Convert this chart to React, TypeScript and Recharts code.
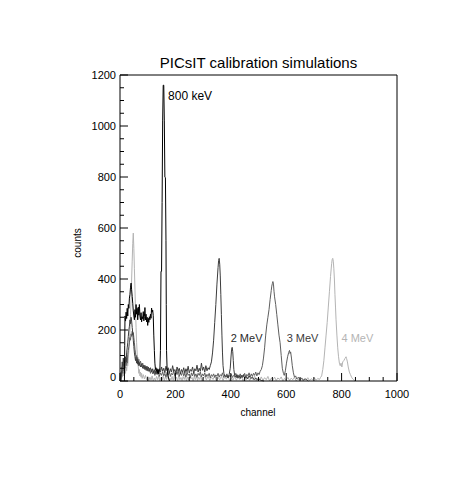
import React from "react";
import { LineChart, Line, XAxis, YAxis, ReferenceDot } from "recharts";

// [channel, counts]
const spec800keV: [number, number][] = [
  [16, 0], [17, 140], [18, 255], [20, 235], [22, 270], [24, 245], [26, 285], [28, 255],
  [30, 300], [32, 285], [34, 325], [36, 340], [38, 368], [40, 384], [42, 358], [44, 332],
  [46, 305], [48, 275], [50, 255], [52, 240], [54, 280], [56, 250], [58, 300], [60, 262],
  [62, 285], [64, 240], [66, 290], [68, 258], [70, 300], [72, 255], [74, 240], [76, 268],
  [78, 232], [80, 252], [82, 244], [84, 272], [86, 236], [88, 252], [90, 288], [92, 240],
  [94, 262], [96, 232], [98, 250], [100, 218], [102, 246], [104, 230], [106, 252], [108, 240],
  [110, 262], [112, 246], [114, 286], [116, 270], [118, 278], [120, 256], [122, 180], [124, 120],
  [126, 70], [128, 45], [130, 52], [132, 38], [134, 48], [136, 30], [138, 45], [140, 28],
  [142, 40], [144, 45], [146, 120], [148, 430], [150, 430], [152, 700], [154, 1020], [156, 1160],
  [158, 1160], [160, 1020], [162, 800], [164, 797], [166, 550], [167, 300], [168, 120], [170, 50],
  [173, 22], [176, 8], [180, 0],
];

const spec2MeV: [number, number][] = [
  [4, 0], [6, 40], [8, 75], [10, 55], [12, 90], [14, 60], [16, 80], [18, 70], [20, 95],
  [22, 75], [24, 110], [26, 130], [28, 150], [30, 175], [32, 200], [34, 215], [36, 240],
  [38, 225], [40, 250], [42, 235], [44, 210], [46, 190], [48, 160], [50, 135], [52, 110],
  [54, 95], [56, 80], [58, 92], [60, 70], [62, 85], [64, 66], [66, 78], [68, 60], [70, 72],
  [74, 55], [78, 68], [82, 50], [86, 62], [90, 45], [94, 58], [98, 40], [102, 55], [106, 38],
  [110, 52], [114, 35], [118, 48], [122, 30], [126, 45], [130, 28], [134, 42], [138, 30],
  [142, 48], [146, 35], [150, 55], [154, 38], [158, 50], [162, 32], [166, 58], [170, 40],
  [174, 52], [178, 30], [182, 48], [186, 35], [190, 60], [194, 38], [198, 45], [202, 30],
  [206, 55], [210, 40], [214, 50], [218, 28], [222, 45], [226, 35], [230, 52], [234, 30],
  [238, 48], [242, 36], [246, 58], [250, 32], [254, 45], [258, 38], [262, 55], [266, 30],
  [270, 48], [274, 40], [278, 62], [282, 35], [286, 50], [290, 38], [294, 70], [298, 42],
  [302, 55], [306, 35], [310, 60], [314, 40], [318, 52], [322, 45], [326, 60], [330, 75],
  [334, 110], [338, 160], [342, 230], [346, 300], [350, 380], [354, 445], [356, 472],
  [358, 481], [360, 458], [362, 412], [364, 340], [366, 260], [368, 180], [370, 110],
  [372, 60], [375, 30], [378, 20], [382, 15], [386, 22], [390, 12], [394, 25], [398, 50],
  [401, 98], [403, 125], [405, 132], [407, 115], [409, 80], [411, 45], [414, 22], [418, 15],
  [422, 25], [426, 12], [430, 20], [434, 10], [438, 22], [442, 14], [446, 25], [450, 10],
  [455, 18], [460, 8], [466, 20], [472, 10], [478, 15], [484, 5], [490, 12], [496, 4],
  [502, 8], [510, 2], [520, 0],
];

const spec3MeV: [number, number][] = [
  [2, 0], [4, 35], [6, 20], [8, 55], [10, 30], [12, 65], [14, 40], [16, 75], [18, 50],
  [20, 85], [22, 60], [24, 90], [26, 70], [28, 105], [30, 120], [32, 135], [34, 150],
  [36, 170], [38, 160], [40, 185], [42, 175], [44, 195], [46, 180], [48, 190], [50, 170],
  [52, 150], [54, 125], [56, 110], [58, 90], [60, 100], [62, 80], [64, 92], [66, 70],
  [68, 85], [70, 62], [74, 78], [78, 55], [82, 70], [86, 48], [90, 62], [94, 42], [98, 58],
  [102, 38], [106, 50], [110, 30], [114, 45], [118, 28], [122, 40], [126, 22], [130, 38],
  [134, 25], [138, 35], [142, 18], [146, 32], [150, 22], [154, 36], [158, 20], [162, 30],
  [166, 15], [170, 34], [174, 22], [178, 38], [182, 18], [186, 30], [190, 24], [194, 40],
  [198, 20], [202, 35], [206, 25], [210, 42], [214, 18], [218, 32], [222, 22], [226, 38],
  [230, 20], [234, 30], [238, 15], [242, 35], [246, 22], [250, 28], [254, 12], [258, 32],
  [262, 20], [266, 36], [270, 18], [274, 28], [278, 14], [282, 30], [286, 22], [290, 35],
  [294, 16], [298, 28], [302, 20], [306, 32], [310, 15], [314, 26], [318, 20], [322, 30],
  [326, 12], [330, 25], [334, 18], [338, 28], [342, 14], [346, 24], [350, 18], [354, 30],
  [358, 15], [362, 25], [366, 20], [370, 32], [374, 14], [378, 24], [382, 18], [386, 28],
  [390, 12], [394, 22], [398, 16], [402, 26], [406, 14], [410, 22], [414, 18], [418, 30],
  [422, 12], [426, 24], [430, 16], [434, 28], [438, 14], [442, 22], [446, 18], [450, 30],
  [454, 15], [458, 26], [462, 20], [466, 32], [470, 16], [474, 28], [478, 18], [482, 30],
  [486, 22], [490, 35], [494, 20], [498, 32], [502, 25], [506, 38], [510, 45], [514, 60],
  [518, 90], [522, 130], [526, 180], [530, 220], [534, 250], [538, 280], [542, 320],
  [546, 355], [548, 372], [550, 382], [552, 390], [554, 380], [556, 352], [558, 330],
  [562, 300], [566, 260], [570, 220], [574, 180], [578, 150], [582, 100], [586, 50],
  [590, 30], [593, 22], [597, 40], [601, 70], [605, 95], [609, 112], [612, 120], [614, 108],
  [616, 114], [619, 90], [622, 60], [626, 32], [630, 15], [634, 20], [638, 8], [644, 15],
  [650, 5], [656, 12], [662, 3], [670, 8], [680, 0],
];

const spec4MeV: [number, number][] = [
  [0, 0], [2, 25], [4, 10], [6, 40], [8, 15], [10, 35], [12, 20], [14, 45], [16, 25],
  [18, 50], [20, 30], [22, 55], [24, 40], [26, 70], [28, 60], [30, 90], [32, 120], [34, 160],
  [36, 200], [38, 260], [40, 320], [42, 400], [44, 470], [46, 540], [48, 580], [50, 520],
  [52, 440], [54, 360], [56, 280], [58, 210], [60, 150], [62, 110], [64, 70], [66, 55],
  [68, 30], [70, 45], [72, 20], [74, 35], [76, 15], [78, 30], [80, 10], [84, 25], [88, 8],
  [92, 22], [96, 5], [100, 18], [104, 0], [108, 15], [112, 3], [116, 20], [120, 0],
  [124, 12], [128, 2], [132, 18], [136, 5], [140, 22], [144, 0], [148, 14], [152, 4],
  [156, 20], [160, 2], [164, 16], [168, 6], [172, 24], [176, 0], [180, 12], [184, 4],
  [188, 18], [192, 2], [196, 20], [200, 6], [204, 15], [208, 0], [212, 22], [216, 5],
  [220, 14], [224, 2], [228, 18], [232, 6], [236, 20], [240, 0], [244, 16], [248, 4],
  [252, 22], [256, 8], [260, 14], [264, 0], [268, 18], [272, 5], [276, 20], [280, 2],
  [284, 15], [288, 6], [292, 22], [296, 0], [300, 12], [306, 18], [312, 4], [318, 20],
  [324, 2], [330, 15], [336, 6], [342, 22], [348, 0], [354, 14], [360, 5], [366, 19],
  [372, 2], [378, 16], [384, 7], [390, 21], [396, 0], [402, 13], [408, 4], [414, 18],
  [420, 3], [426, 15], [432, 6], [438, 20], [444, 0], [450, 12], [456, 5], [462, 17],
  [468, 2], [474, 14], [480, 6], [486, 19], [492, 1], [498, 12], [504, 4], [510, 16],
  [516, 2], [522, 13], [528, 5], [534, 18], [540, 0], [546, 11], [552, 4], [558, 15],
  [564, 2], [570, 12], [576, 6], [582, 16], [588, 0], [594, 10], [600, 4], [606, 14],
  [612, 2], [618, 11], [624, 5], [630, 15], [636, 0], [642, 9], [648, 3], [654, 12],
  [660, 1], [666, 10], [672, 4], [678, 13], [684, 2], [690, 9], [696, 5], [702, 12],
  [708, 3], [714, 10], [720, 6], [724, 14], [728, 20], [732, 45], [736, 80], [740, 130],
  [744, 180], [748, 230], [752, 290], [756, 350], [760, 410], [764, 460], [766, 476],
  [768, 481], [770, 470], [772, 440], [774, 400], [776, 340], [778, 290], [780, 240],
  [783, 180], [786, 130], [789, 95], [792, 70], [795, 60], [798, 70], [801, 55], [804, 75],
  [808, 80], [812, 88], [816, 95], [818, 88], [821, 75], [824, 55], [828, 35], [832, 25],
  [836, 15], [840, 8], [844, 4], [848, 0],
];

const xTicks = [0, 50, 100, 150, 200, 250, 300, 350, 400, 450, 500, 550, 600, 650, 700, 750, 800, 850, 900, 950, 1000];
const yTicks = [0, 50, 100, 150, 200, 250, 300, 350, 400, 450, 500, 550, 600, 650, 700, 750, 800, 850, 900, 950, 1000, 1050, 1100, 1150, 1200];

// energy labels: [text, channel, counts, colour]
const peakLabels: [string, number, number, string][] = [
  ["800 keV", 170, 1118, "#000000"],
  ["2 MeV", 396, 169, "#2a2a2a"],
  ["3 MeV", 598, 169, "#3a3a3a"],
  ["4 MeV", 796, 169, "#b4b4b4"],
];

const FONT = "'Liberation Sans', Arial, sans-serif";
const MAJOR = 8;
const MINOR = 4;

const toRows = (s: [number, number][]) => s.map(([ch, c]) => ({ ch, c }));

const BottomTick = (props: any) => {
  const { x, y, payload } = props;
  const major = payload.value % 200 === 0;
  return (
    <g>
      <line x1={x} y1={y} x2={x} y2={y - (major ? MAJOR : MINOR)} stroke="#000" />
      {major && (
        <text x={x} y={y + 13} textAnchor="middle" dominantBaseline="central" fontSize={11} fontFamily={FONT} fill="#000">
          {payload.value}
        </text>
      )}
    </g>
  );
};

const TopTick = (props: any) => {
  const { x, y, payload } = props;
  const major = payload.value % 200 === 0;
  return <line x1={x} y1={y} x2={x} y2={y + (major ? MAJOR : MINOR)} stroke="#000" />;
};

const LeftTick = (props: any) => {
  const { x, y, payload } = props;
  const major = payload.value % 200 === 0;
  return (
    <g>
      <line x1={x} y1={y} x2={x + (major ? MAJOR : MINOR)} y2={y} stroke="#000" />
      {major && (
        <text x={x - 4} y={payload.value === 0 ? y - 4 : y} textAnchor="end" dominantBaseline="central" fontSize={11} fontFamily={FONT} fill="#000">
          {payload.value}
        </text>
      )}
    </g>
  );
};

const RightTick = (props: any) => {
  const { x, y, payload } = props;
  const major = payload.value % 200 === 0;
  return <line x1={x} y1={y} x2={x - (major ? MAJOR : MINOR)} y2={y} stroke="#000" />;
};

const App = () => {
  return (
    <div style={{ position: "relative", width: 455, height: 469 }}>
      <LineChart width={455} height={469} margin={{ top: 57, right: 56, bottom: 66, left: 72 }}>
        <XAxis
          xAxisId="b"
          type="number"
          dataKey="ch"
          domain={[0, 1000]}
          ticks={xTicks}
          interval={0}
          height={30}
          tickSize={0}
          tickMargin={0}
          tickLine={false}
          axisLine={{ stroke: "#000" }}
          tick={<BottomTick />}
        />
        <XAxis
          xAxisId="t"
          orientation="top"
          type="number"
          dataKey="ch"
          domain={[0, 1000]}
          ticks={xTicks}
          interval={0}
          height={10}
          tickSize={0}
          tickMargin={0}
          tickLine={false}
          axisLine={{ stroke: "#000" }}
          tick={<TopTick />}
        />
        <YAxis
          yAxisId="l"
          type="number"
          domain={[0, 1200]}
          ticks={yTicks}
          interval={0}
          width={40}
          tickSize={0}
          tickMargin={0}
          tickLine={false}
          axisLine={{ stroke: "#000" }}
          tick={<LeftTick />}
        />
        <YAxis
          yAxisId="r"
          orientation="right"
          type="number"
          domain={[0, 1200]}
          ticks={yTicks}
          interval={0}
          width={10}
          tickSize={0}
          tickMargin={0}
          tickLine={false}
          axisLine={{ stroke: "#000" }}
          tick={<RightTick />}
        />
        <Line xAxisId="b" yAxisId="l" data={toRows(spec4MeV)} dataKey="c" type="linear" stroke="#b4b4b4" strokeWidth={1} dot={false} activeDot={false} isAnimationActive={false} />
        <Line xAxisId="b" yAxisId="l" data={toRows(spec3MeV)} dataKey="c" type="linear" stroke="#5e5e5e" strokeWidth={1} dot={false} activeDot={false} isAnimationActive={false} />
        <Line xAxisId="b" yAxisId="l" data={toRows(spec2MeV)} dataKey="c" type="linear" stroke="#3c3c3c" strokeWidth={1} dot={false} activeDot={false} isAnimationActive={false} />
        <Line xAxisId="b" yAxisId="l" data={toRows(spec800keV)} dataKey="c" type="linear" stroke="#000000" strokeWidth={1} dot={false} activeDot={false} isAnimationActive={false} />
        {peakLabels.map(([text, ch, c, color]) => (
          <ReferenceDot
            key={text}
            xAxisId="b"
            yAxisId="l"
            x={ch}
            y={c}
            r={1}
            fill="none"
            stroke="none"
            ifOverflow="visible"
            label={{ value: text, position: "right", offset: 0, fill: color, fontSize: text === "800 keV" ? 12 : 11, fontFamily: FONT }}
          />
        ))}
      </LineChart>
      <svg width={455} height={469} style={{ position: "absolute", left: 0, top: 0, pointerEvents: "none" }}>
        <text x={250.5} y={54.5} textAnchor="middle" dominantBaseline="central" fontSize={15} fontFamily={FONT} fill="#000">
          PICsIT calibration simulations
        </text>
        <text x={69} y={235} textAnchor="middle" dominantBaseline="central" fontSize={10} fontFamily={FONT} fill="#000" transform="rotate(-90 69 235)">
          counts
        </text>
        <text x={250} y={404} textAnchor="middle" dominantBaseline="central" fontSize={10} fontFamily={FONT} fill="#000">
          channel
        </text>
      </svg>
    </div>
  );
};

export default App;
